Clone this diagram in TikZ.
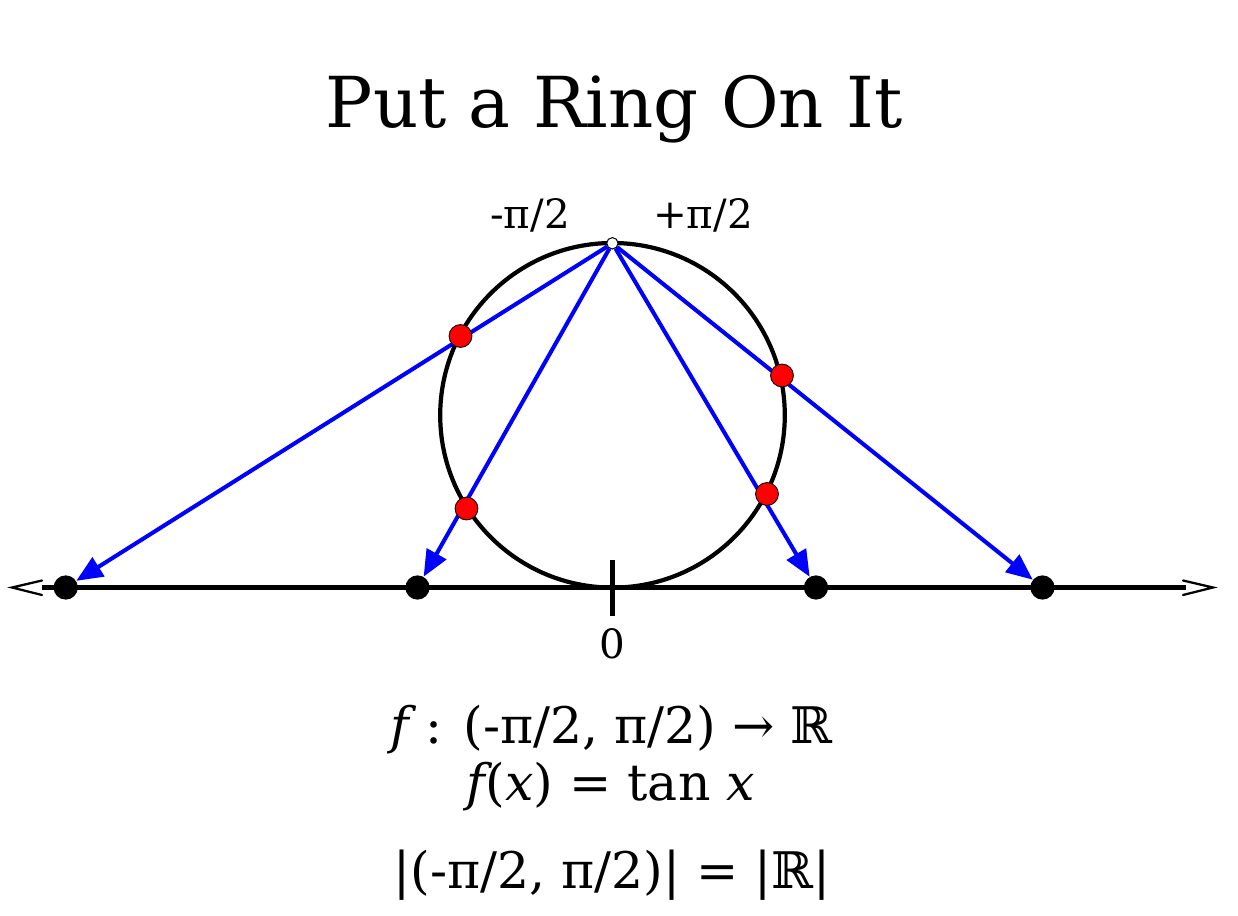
\documentclass[tikz,border=0pt]{standalone}
\usepackage{fontspec}
\setmainfont{DejaVu Serif}
\usetikzlibrary{arrows.meta}
\begin{document}
\begin{tikzpicture}[x=0.02cm,y=-0.02cm,
  axisline/.style={line width=2.3pt, black},
  ringline/.style={line width=2.4pt, black},
  proj/.style={line width=2.3pt, draw={rgb,255:red,0;green,0;blue,255},
    -{Triangle[length=15pt,width=12.5pt,fill={rgb,255:red,0;green,0;blue,255}]}},
  realpt/.style={circle, fill=black, inner sep=0pt, minimum size=13.8pt},
  ringpt/.style={circle, fill=red, draw=black, line width=0.5pt, inner sep=0pt, minimum size=13pt},
  toppt/.style={circle, fill=white, draw=black, line width=0.5pt, inner sep=0pt, minimum size=6.4pt},
  chev/.style={line width=1.3pt, black, line cap=round, line join=miter},
  lbl/.style={font=\fontsize{23}{26}\selectfont, anchor=base},
  eq/.style={font=\fontsize{28.7}{32}\selectfont, anchor=base}]
\useasboundingbox (0,0) rectangle (1238,916);
\fill[white] (0,0) rectangle (1238,916);

% title
\node[font=\fontsize{40}{44}\selectfont, anchor=base] (title) at (614,127) {Put a Ring On It};

% axis
\coordinate (axL) at (42,587.5);
\coordinate (axR) at (1186,587.5);
\draw[axisline] (axL) -- (axR);
\coordinate (lt) at (12,587.5);
\coordinate (lu) at (42,580.5);
\coordinate (ld) at (42,595);
\draw[chev] (lu) -- (lt) -- (ld);
\coordinate (rt) at (1213,587.5);
\coordinate (ru) at (1183,580.5);
\coordinate (rd) at (1183,595);
\draw[chev] (ru) -- (rt) -- (rd);

% tick and zero
\coordinate (tk1) at (612.5,560);
\coordinate (tk2) at (612.5,616);
\draw[line width=2.3pt] (tk1) -- (tk2);
\node[lbl] (zero) at (612,658) {0};

% circle
\coordinate (C) at (612.5,415.3);
\draw[ringline] (C) circle[radius=172.3];

% top labels
\node[lbl] (lm) at (530,228) {-π/2};
\node[lbl] (lp) at (703,228) {+π/2};

% points on the line
\node[realpt] (b1) at (65.7,587.5) {};
\node[realpt] (b2) at (417.5,587.5) {};
\node[realpt] (b3) at (816,587.5) {};
\node[realpt] (b4) at (1042.5,587.5) {};

% top point
\node[toppt] (T) at (612.4,243.3) {};

% projections
\draw[proj] (T) -- (b1);
\draw[proj] (T) -- (b2);
\draw[proj] (T) -- (b3);
\draw[proj] (T) -- (b4);
\node[toppt] (T2) at (T) {};

% points on the ring
\node[ringpt] (r1) at (460.5,336) {};
\node[ringpt] (r2) at (466.5,508.5) {};
\node[ringpt] (r3) at (782,375.5) {};
\node[ringpt] (r4) at (767,494) {};

% equations
\node[eq] (eq1) at (611.5,743) {{\itshape f} : (-π/2, π/2) → ℝ};
\node[eq] (eq2) at (611,800) {{\itshape f}({\itshape x}) = tan {\itshape x}};
\node[eq] (eq3) at (612,888) {|(-π/2, π/2)| = |ℝ|};
\end{tikzpicture}
\end{document}
